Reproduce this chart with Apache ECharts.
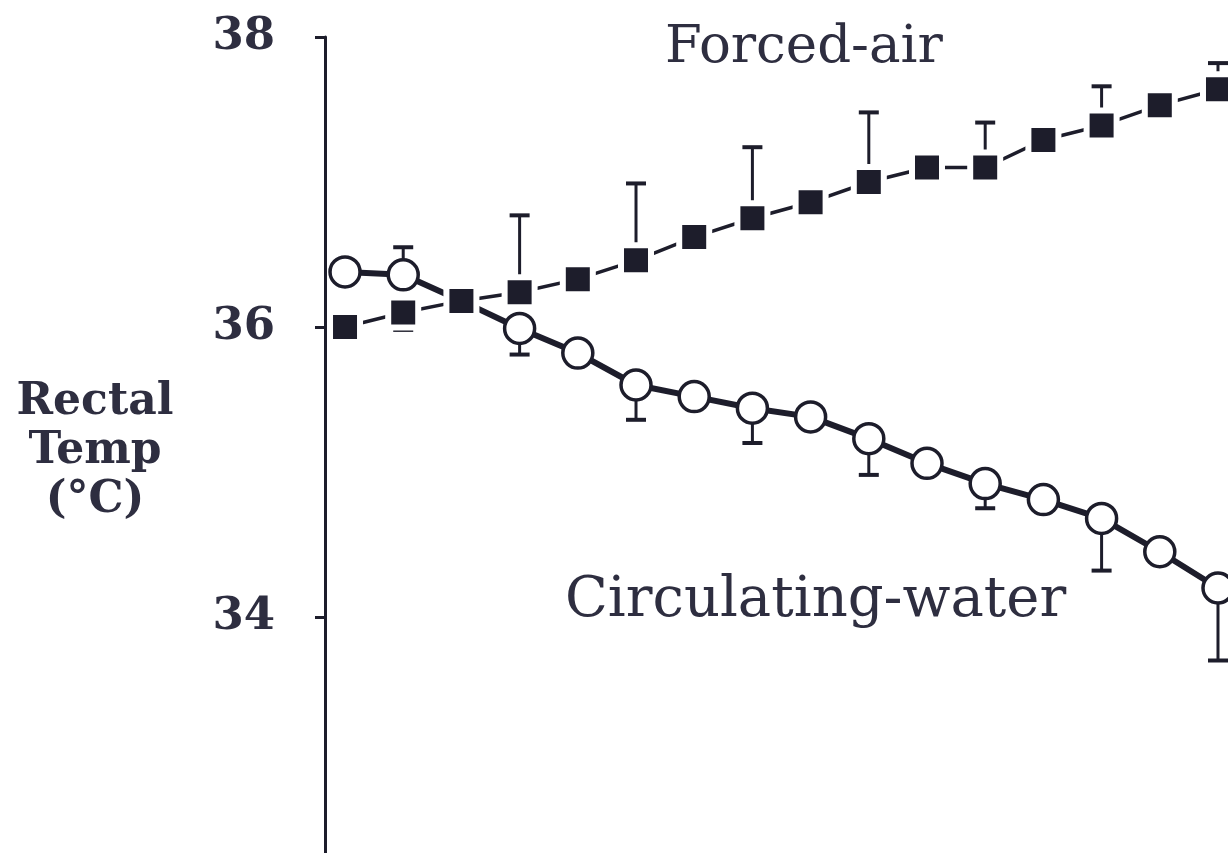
<!DOCTYPE html>
<html>
<head>
<meta charset="utf-8">
<title>Rectal temperature: forced-air vs circulating-water warming</title>
<script src="https://cdn.jsdelivr.net/npm/echarts@6/dist/echarts.min.js"></script>
<style>
  html, body { margin: 0; padding: 0; background: #ffffff; }
  #chart { width: 1228px; height: 853px; }
</style>
</head>
<body>
<div id="chart"></div>
<script>
// Sampling times (minutes)
const times = [0, 5, 10, 15, 20, 25, 30, 35, 40, 45, 50, 55, 60, 65, 70, 75];

// Mean rectal temperature, °C
const forcedAir = [36.00, 36.10, 36.18, 36.24, 36.33, 36.46, 36.62, 36.75, 36.86, 37.00, 37.10, 37.10, 37.29, 37.39, 37.53, 37.64];
const circulatingWater = [36.38, 36.36, 36.18, 35.99, 35.82, 35.60, 35.52, 35.44, 35.38, 35.23, 35.06, 34.92, 34.81, 34.68, 34.45, 34.20];

// Error-bar end values (one-sided SD), null where no bar is drawn
const forcedAirErrEnd = [null, 35.98, null, 36.77, null, 36.99, null, 37.24, null, 37.48, null, 37.41, null, 37.66, null, 37.82];
const circulatingWaterErrEnd = [null, 36.55, null, 35.81, null, 35.36, null, 35.20, null, 34.98, null, 34.75, null, 34.32, null, 33.70];

// Y-axis tick labels
const yTicks = [32, 34, 36, 38];
const yLabelsShown = [34, 36, 38];

const ink = '#1d1d2b';
const textInk = '#2e2e40';

function pairs(xs, ys) {
  return xs.map((x, i) => [x, ys[i]]);
}

function errorBarSeries(name, means, ends, z) {
  const data = [];
  times.forEach((t, i) => {
    if (ends[i] !== null) data.push([t, means[i], ends[i]]);
  });
  return {
    name: name,
    type: 'custom',
    z: z,
    clip: false,
    silent: true,
    renderItem: function (params, api) {
      const x = api.value(0);
      const p0 = api.coord([x, api.value(1)]);
      const p1 = api.coord([x, api.value(2)]);
      const half = 10;
      return {
        type: 'group',
        children: [
          {
            type: 'line',
            shape: { x1: p0[0], y1: p0[1], x2: p1[0], y2: p1[1] },
            style: { stroke: ink, lineWidth: 3 }
          },
          {
            type: 'line',
            shape: { x1: p1[0] - half, y1: p1[1], x2: p1[0] + half, y2: p1[1] },
            style: { stroke: ink, lineWidth: 4 }
          }
        ]
      };
    },
    data: data
  };
}

// The circulating-water point at 10 min sits under the forced-air square
const circData = pairs(times, circulatingWater).map((d, i) =>
  i === 2 ? { value: d, symbol: 'none' } : { value: d }
);

const chart = echarts.init(document.getElementById('chart'), null, { renderer: 'canvas' });

chart.setOption({
  backgroundColor: '#ffffff',
  animation: false,
  grid: {
    left: 325, top: 37, right: 0, height: 870,
    containLabel: false,
    outerBoundsMode: 'none'
  },
  xAxis: {
    type: 'value',
    min: -1.72,
    max: 75.86,
    show: false
  },
  yAxis: {
    type: 'value',
    min: yTicks[0],
    max: yTicks[yTicks.length - 1],
    interval: 2,
    z: 5,
    axisLine: { show: true, onZero: false, lineStyle: { color: ink, width: 3 } },
    axisTick: { show: true, inside: false, length: 10, lineStyle: { color: ink, width: 3 } },
    splitLine: { show: false },
    axisLabel: {
      margin: 50,
      color: textInk,
      fontFamily: 'DejaVu Serif',
      fontWeight: 'bold',
      fontSize: 45,
      formatter: function (v) { return yLabelsShown.indexOf(v) >= 0 ? String(v) : ''; }
    }
  },
  graphic: [
    {
      type: 'text',
      x: 95,
      y: 378,
      style: {
        text: 'Rectal\nTemp\n(°C)',
        align: 'center',
        verticalAlign: 'top',
        textAlign: 'center',
        fill: textInk,
        font: 'bold 44px "DejaVu Serif"',
        lineHeight: 49
      },
      z: 10
    },
    {
      type: 'text',
      x: 665,
      y: 22,
      style: {
        text: 'Forced-air',
        fill: textInk,
        font: '53px "DejaVu Serif"'
      },
      z: 10
    },
    {
      type: 'text',
      x: 565,
      y: 573,
      style: {
        text: 'Circulating-water',
        fill: textInk,
        font: '56px "DejaVu Serif"'
      },
      z: 10
    }
  ],
  series: [
    errorBarSeries('Circulating-water SD', circulatingWater, circulatingWaterErrEnd, 1),
    {
      name: 'Circulating-water',
      type: 'line',
      z: 2,
      data: circData,
      symbol: 'circle',
      symbolSize: 30,
      showAllSymbol: true,
      lineStyle: { color: ink, width: 6 },
      itemStyle: { color: '#ffffff', borderColor: ink, borderWidth: 3.5 },
      clip: false
    },
    errorBarSeries('Forced-air SD', forcedAir, forcedAirErrEnd, 3),
    {
      name: 'Forced-air',
      type: 'line',
      z: 4,
      data: pairs(times, forcedAir),
      symbol: 'rect',
      symbolSize: 30,
      showAllSymbol: true,
      lineStyle: { color: ink, width: 3.5 },
      itemStyle: { color: ink, borderColor: '#ffffff', borderWidth: 6 },
      clip: false
    }
  ]
});
</script>
</body>
</html>
